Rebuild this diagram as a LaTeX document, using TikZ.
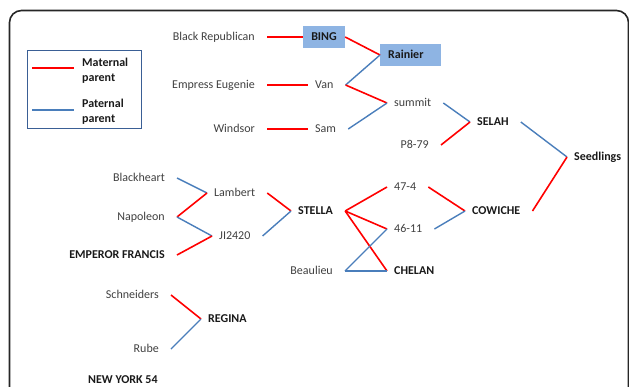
\documentclass[tikz,border=0pt]{standalone}
\usepackage{fontspec}
\setmainfont{Carlito}
\definecolor{matred}{RGB}{255,0,0}
\definecolor{patblue}{RGB}{74,126,187}
\definecolor{boxblue}{RGB}{142,180,227}
\definecolor{legblue}{RGB}{58,95,149}
\definecolor{txtgray}{RGB}{64,64,64}
\definecolor{framec}{RGB}{38,38,38}
\begin{document}
\begin{tikzpicture}[x=1pt,y=-1pt,
  nm/.style={inner xsep=7pt, inner ysep=0pt, text height=8.5pt, text depth=2.5pt,
     font=\fontsize{12}{14}\selectfont, text=txtgray, execute at end node={\kern5pt}},
  bd/.style={nm, font=\fontsize{12}{14}\selectfont\bfseries, text=black!90},
  boxn/.style={fill=boxblue, inner sep=0pt, text height=8.5pt, text depth=2.5pt,
     font=\fontsize{12}{14}\selectfont\bfseries, text=black!90, minimum height=22pt},
  legt/.style={anchor=north west, inner sep=0pt, align=left,
     font=\fontsize{12}{15}\selectfont\bfseries, text=black!90},
  mat/.style={draw=matred, line width=1.6pt},
  pat/.style={draw=patblue, line width=1.4pt}]
\useasboundingbox (0,0) rectangle (629,386);
\clip (0,0) rectangle (629,386);
\draw[framec, line width=1.6pt, rounded corners=12pt] (9.5,10.5) rectangle (628.5,430);

% legend
\draw[legblue, line width=0.9pt] (27.5,50.5) rectangle (141.5,128.5);
\coordinate (lm1) at (32,68); \coordinate (lm2) at (74,68);
\coordinate (lp1) at (32,110); \coordinate (lp2) at (74,110);
\draw[mat] (lm1) -- (lm2);
\draw[pat] (lp1) -- (lp2);
\node[legt] (legm) at (82,57.5) {Maternal\\parent};
\node[legt] (legp) at (82,99) {Paternal\\parent};

% top group
\node[nm, anchor=east] (blackrep) at (267,37) {Black Republican};
\node[boxn, minimum width=42pt] (bing) at (324,37) {BING};
\node[boxn, text width=45pt, inner xsep=8pt, align=left, anchor=west] (rainier) at (380,55) {Rainier};
\node[nm, anchor=east] (empress) at (267,85) {Empress Eugenie};
\node[nm, anchor=west] (van) at (308,85) {Van};
\node[nm, anchor=east] (windsor) at (267,129) {Windsor};
\node[nm, anchor=west] (sam) at (308,129) {Sam};
\node[nm, anchor=west] (summit) at (387,103) {summit};
\node[nm, anchor=east] (p879) at (441,145) {P8-79};
\node[bd, anchor=west] (selah) at (470,122) {SELAH};
\node[bd, anchor=west] (seedlings) at (567,157) {Seedlings};

% middle group
\node[bd, anchor=west] (cowiche) at (465,211) {COWICHE};
\node[nm, anchor=west] (s474) at (387,187) {47-4};
\node[nm, anchor=west] (s4611) at (387,229) {46-11};
\node[bd, anchor=west] (stella) at (291,211) {STELLA};
\node[bd, anchor=west] (chelan) at (387,271) {CHELAN};
\node[nm, anchor=east] (beaulieu) at (345,271) {Beaulieu};
\node[nm, anchor=east] (blackheart) at (177,178) {Blackheart};
\node[nm, anchor=west] (lambert) at (207,193) {Lambert};
\node[nm, anchor=east] (napoleon) at (177,217) {Napoleon};
\node[nm, anchor=west] (ji2420) at (212,236) {JI2420};
\node[bd, anchor=east] (emperor) at (177,255) {EMPEROR FRANCIS};

% bottom group
\node[nm, anchor=east] (schneiders) at (171,295) {Schneiders};
\node[bd, anchor=west] (regina) at (201,319) {REGINA};
\node[nm, anchor=east] (rube) at (171,349) {Rube};
\node[bd, anchor=west] (newyork) at (81,380) {NEW YORK 54};

% connectors
\draw[mat] (blackrep.east) -- (bing.west);
\draw[mat] (bing.east) -- (rainier.west);
\draw[pat] (van.east) -- (rainier.west);
\draw[mat] (empress.east) -- (van.west);
\draw[mat] (windsor.east) -- (sam.west);
\draw[mat] (van.east) -- (summit.west);
\draw[pat] (sam.east) -- (summit.west);
\draw[pat] (summit.east) -- (selah.west);
\draw[mat] (p879.east) -- (selah.west);
\draw[pat] (selah.east) -- (seedlings.west);
\draw[mat] (cowiche.east) -- (seedlings.west);
\draw[mat] (s474.east) -- (cowiche.west);
\draw[pat] (s4611.east) -- (cowiche.west);
\draw[mat] (stella.east) -- (s474.west);
\draw[mat] (stella.east) -- (s4611.west);
\draw[mat] (stella.east) -- (chelan.west);
\draw[pat] (beaulieu.east) -- (chelan.west);
\draw[pat] (beaulieu.east) -- (s4611.west);
\draw[pat] (blackheart.east) -- (lambert.west);
\draw[mat] (napoleon.east) -- (lambert.west);
\draw[pat] (napoleon.east) -- (ji2420.west);
\draw[mat] (emperor.east) -- (ji2420.west);
\draw[mat] (lambert.east) -- (stella.west);
\draw[pat] (ji2420.east) -- (stella.west);
\draw[mat] (schneiders.east) -- (regina.west);
\draw[pat] (rube.east) -- (regina.west);
\end{tikzpicture}
\end{document}
